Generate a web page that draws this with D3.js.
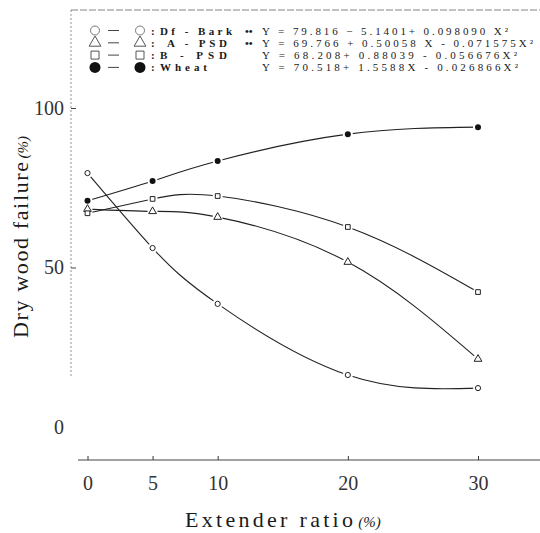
<!DOCTYPE html>
<html lang="en">
<head>
    <meta charset="UTF-8">
    <title>Dry wood failure vs extender ratio</title>
    <script src="https://cdn.jsdelivr.net/npm/d3@7"></script>
    <style>
        body { margin: 0; background: #fff; }
        text { font-family: "Liberation Serif", "DejaVu Serif", serif; fill: #1a1a1a; }
    </style>
</head>
<body>
    <div id="my_dataviz"></div>
    <script>
        // values
        var extender = [0, 5, 10, 20, 30];
        var dfBark = [79.6, 56.1, 38.6, 16.3, 12.2];
        var aPSD   = [68.3, 67.6, 65.8, 51.7, 21.3];
        var bPSD   = [67.0, 71.5, 72.4, 62.7, 42.3];
        var wheat  = [70.9, 77.1, 83.4, 91.8, 94.0];

        var seriesNames = ["Df - Bark", "A - PSD", "B - PSD", "Wheat"];
        var signif = ["\u2022\u2022", "\u2022\u2022", "", ""];
        var equations = [
            "Y = 79.816 \u2212 5.1401+ 0.098090 X\u00b2",
            "Y = 69.766 + 0.50058 X - 0.071575X\u00b2",
            "Y = 68.208+ 0.88039 - 0.056676X\u00b2",
            "Y = 70.518+ 1.5588X - 0.026866X\u00b2"
        ];
        var xTicks = [0, 5, 10, 20, 30];
        var yTicks = [0, 50, 100];

        var width = 540, height = 533;

        var svg = d3.select("#my_dataviz")
          .append("svg")
            .attr("width", width)
            .attr("height", height);

        var x = d3.scaleLinear()
            .domain([0, 30])
            .range([87.5, 478]);
        var y = d3.scaleLinear()
            .domain([0, 100])
            .range([427, 108]);

        // frame: dashed top edge and dotted left edge
        svg.append("line")
            .attr("x1", 71).attr("x2", width)
            .attr("y1", 10).attr("y2", 10)
            .style("stroke", "#666").style("stroke-width", 0.8)
            .style("stroke-dasharray", "7,2");
        svg.append("line")
            .attr("x1", 71).attr("x2", 71)
            .attr("y1", 10).attr("y2", 378)
            .style("stroke", "#777").style("stroke-width", 0.8)
            .style("stroke-dasharray", "2,2");

        // X axis
        var xAxis = svg.append("g")
            .attr("transform", "translate(0,460)")
            .call(d3.axisBottom(x).tickValues(xTicks).tickSize(-4).tickSizeOuter(0).tickPadding(16));
        xAxis.select(".domain").remove();
        xAxis.selectAll(".tick line").style("stroke", "#333");
        xAxis.selectAll("text")
            .style("font-family", "Liberation Serif")
            .style("font-size", "20px")
            .style("fill", "#333");
        svg.append("line")
            .attr("x1", 78).attr("x2", width)
            .attr("y1", 460).attr("y2", 460)
            .style("stroke", "#444").style("stroke-width", 1);

        // Y axis
        var yAxis = svg.append("g")
            .attr("transform", "translate(71,0)")
            .call(d3.axisLeft(y).tickValues(yTicks).tickSize(-5).tickPadding(7));
        yAxis.select(".domain").remove();
        yAxis.selectAll(".tick line")
            .style("stroke", "#444")
            .style("opacity", function(d) { return d === 0 ? 0 : 1; });
        yAxis.selectAll("text")
            .style("font-family", "Liberation Serif")
            .style("font-size", "20px")
            .style("fill", "#333");

        // axis titles
        var xt = svg.append("text")
            .attr("x", 185).attr("y", 527);
        xt.append("tspan")
            .attr("textLength", 168).attr("lengthAdjust", "spacing")
            .style("font-size", "22px")
            .text("Extender ratio");
        xt.append("tspan")
            .attr("dx", 2)
            .style("font-size", "15px")
            .style("font-style", "italic")
            .text("(%)");

        var yt = svg.append("text")
            .attr("transform", "translate(28,338) rotate(-90)");
        yt.append("tspan")
            .attr("textLength", 176).attr("lengthAdjust", "spacing")
            .style("font-size", "22px")
            .text("Dry wood failure");
        yt.append("tspan")
            .attr("dx", 2)
            .style("font-size", "15px")
            .style("font-style", "italic")
            .text("(%)");

        // curves through the measured points
        var series = [
            { name: seriesNames[0], values: dfBark, shape: "circle" },
            { name: seriesNames[1], values: aPSD, shape: "triangle" },
            { name: seriesNames[2], values: bPSD, shape: "square" },
            { name: seriesNames[3], values: wheat, shape: "dot" }
        ];

        var line = d3.line()
            .x(function(d, i) { return x(extender[i]); })
            .y(function(d) { return y(d); })
            .curve(d3.curveNatural);

        svg.append("g")
            .selectAll("path")
            .data(series)
            .enter()
            .append("path")
              .attr("d", function(d) { return line(d.values); })
              .style("fill", "none")
              .style("stroke", "#222")
              .style("stroke-width", 1.1);

        function drawMarker(g, shape, cx, cy, big) {
            if (shape === "circle") {
                g.append("circle").attr("cx", cx).attr("cy", cy).attr("r", big ? 4.5 : 2.6)
                  .style("fill", "#fff").style("stroke", big ? "#777" : "#222").style("stroke-width", 1);
            } else if (shape === "dot") {
                g.append("circle").attr("cx", cx).attr("cy", cy).attr("r", big ? 5.5 : 3)
                  .style("fill", "#111");
            } else {
                var sym = shape === "triangle" ? d3.symbolTriangle : d3.symbolSquare;
                var size = shape === "triangle" ? (big ? 60 : 26) : (big ? 64 : 22);
                g.append("path")
                  .attr("d", d3.symbol().type(sym).size(size)())
                  .attr("transform", "translate(" + cx + "," + cy + ")")
                  .style("fill", "#fff").style("stroke", big ? "#555" : "#222").style("stroke-width", 1);
            }
        }

        // white halos leave the small gaps round each marker
        var marks = svg.append("g");
        series.forEach(function(s) {
            s.values.forEach(function(v, i) {
                marks.append("circle")
                  .attr("cx", x(extender[i])).attr("cy", y(v)).attr("r", 5)
                  .style("fill", "#fff");
            });
        });
        series.forEach(function(s) {
            s.values.forEach(function(v, i) {
                drawMarker(marks, s.shape, x(extender[i]), y(v), false);
            });
        });

        // legend
        var rowY = [30.5, 42.8, 55.1, 67.4];
        var nameStart = [160, 167, 160, 160];
        var nameEnd = [232, 227, 227, 207];
        var legend = svg.append("g");
        series.forEach(function(s, i) {
            var cy = rowY[i];
            drawMarker(legend, s.shape, 95, cy, true);
            legend.append("line")
              .attr("x1", 108).attr("x2", 119).attr("y1", cy).attr("y2", cy)
              .style("stroke", "#444").style("stroke-width", 1);
            drawMarker(legend, s.shape, 140, cy, true);
            legend.append("text")
              .attr("x", 151).attr("y", cy + 4)
              .style("font-size", "11px").style("font-weight", "bold")
              .text(":");
            legend.append("text")
              .attr("x", nameStart[i]).attr("y", cy + 4)
              .attr("textLength", nameEnd[i] - nameStart[i]).attr("lengthAdjust", "spacing")
              .style("font-size", "11px").style("font-weight", "bold")
              .text(s.name);
            if (signif[i]) {
                legend.append("text")
                  .attr("x", 245).attr("y", cy + 4)
                  .style("font-size", "11px").style("font-weight", "bold")
                  .text(signif[i]);
            }
        });

        var eqEnd = [508, 533, 517, 518];
        legend.selectAll(".eq")
            .data(equations)
            .enter()
            .append("text")
              .attr("class", "eq")
              .attr("x", 262)
              .attr("y", function(d, i) { return rowY[i] + 4; })
              .attr("textLength", function(d, i) { return eqEnd[i] - 262; })
              .attr("lengthAdjust", "spacing")
              .style("font-size", "11px")
              .text(function(d) { return d; });
    </script>
</body>
</html>
